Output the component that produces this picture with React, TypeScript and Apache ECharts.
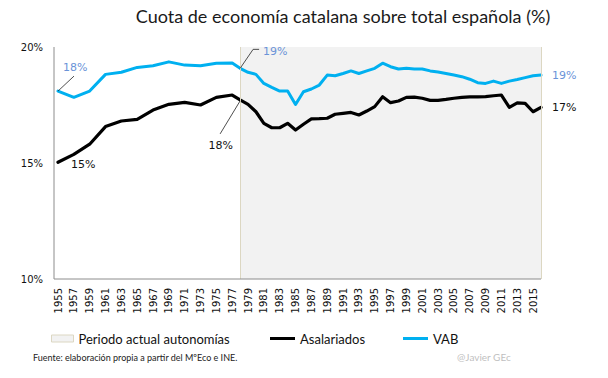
import React, { useEffect, useRef } from "react";
import * as echarts from "echarts";

const years: string[] = Array.from({ length: 62 }, (_, i) => String(1955 + i));

// Biennial data until 1977 (gaps joined by straight segments), annual afterwards
const asalariados: (number | null)[] = [
  15.03, null, 15.37, null, 15.81, null, 16.57, null, 16.81, null, 16.88, null,
  17.28, null, 17.53, null, 17.61, null, 17.5, null, 17.83, null, 17.93,
  17.72, 17.53, 17.21, 16.71, 16.52, 16.52, 16.71, 16.42, 16.67, 16.9, 16.91,
  16.93, 17.1, 17.14, 17.18, 17.07, 17.24, 17.43, 17.86, 17.6, 17.67, 17.83,
  17.84, 17.79, 17.7, 17.7, 17.74, 17.79, 17.83, 17.85, 17.85, 17.86, 17.9,
  17.93, 17.4, 17.59, 17.57, 17.21, 17.4,
];

const vab: (number | null)[] = [
  18.1, null, 17.83, null, 18.1, null, 18.82, null, 18.91, null, 19.12, null,
  19.19, null, 19.36, null, 19.22, null, 19.19, null, 19.3, null, 19.31,
  19.08, 18.91, 18.82, 18.43, 18.26, 18.1, 18.1, 17.52, 18.07, 18.19, 18.36,
  18.79, 18.76, 18.86, 18.97, 18.86, 18.97, 19.08, 19.3, 19.15, 19.05, 19.08,
  19.05, 19.05, 18.97, 18.92, 18.86, 18.79, 18.72, 18.61, 18.46, 18.43, 18.53,
  18.43, 18.53, 18.6, 18.68, 18.76, 18.79,
];

const periodStart = "1978";
const periodEnd = "2016";
const yMin = 10;
const yMax = 20;
const yStep = 5;

const TITLE = "Cuota de economía catalana sobre total española (%)";
const SOURCE = "Fuente: elaboración propia a partir del MºEco e INE.";
const AUTHOR = "@Javier GEc";

export default function App() {
  const ref = useRef<HTMLDivElement>(null);

  useEffect(() => {
    const chart = echarts.init(ref.current!, null, { renderer: "svg" });
    const font = "Lato, 'Century Gothic', sans-serif";
    const numFont = "'DejaVu Sans', Verdana, sans-serif";
    const blue = "#00b0f0";
    const blueText = "#6a93d8";
    const shade = "#f2f2f2";
    const beige = "#dcd7c2";
    const legendText = { fontSize: 13, fontFamily: font, color: "#111" };

    chart.setOption({
      animation: false,
      grid: { left: 58, right: 67, top: 47, bottom: 99 },
      xAxis: {
        type: "category",
        data: years,
        boundaryGap: false,
        axisLine: { show: false },
        axisTick: { show: false },
        axisLabel: {
          interval: 1,
          rotate: 90,
          margin: 9,
          fontSize: 10,
          color: "#111",
          fontFamily: numFont,
        },
      },
      yAxis: {
        type: "value",
        min: yMin,
        max: yMax,
        interval: yStep,
        splitLine: { show: false },
        axisLine: { show: false },
        axisTick: { show: false },
        axisLabel: {
          formatter: "{value}%",
          margin: 15,
          fontSize: 10,
          color: "#111",
          fontFamily: numFont,
        },
      },
      legend: [
        {
          data: [
            {
              name: "Periodo actual autonomías",
              icon: "rect",
              itemStyle: { color: shade, borderColor: beige, borderWidth: 1 },
            },
          ],
          left: 51,
          top: 332,
          padding: 0,
          itemWidth: 22,
          itemHeight: 7,
          selectedMode: false,
          textStyle: legendText,
        },
        {
          data: [{ name: "Asalariados", icon: "rect" }],
          left: 270,
          top: 332,
          padding: 0,
          itemWidth: 25,
          itemHeight: 3,
          selectedMode: false,
          textStyle: legendText,
        },
        {
          data: [{ name: "VAB", icon: "rect" }],
          left: 403,
          top: 332,
          padding: 0,
          itemWidth: 25,
          itemHeight: 3,
          selectedMode: false,
          textStyle: legendText,
        },
      ],
      series: [
        {
          name: "Periodo actual autonomías",
          type: "line",
          data: [],
          z: 1,
          itemStyle: { color: shade },
          markArea: {
            silent: true,
            itemStyle: { color: shade },
            data: [[{ xAxis: periodStart }, { xAxis: periodEnd }]],
          },
          markLine: {
            silent: true,
            symbol: "none",
            label: { show: false },
            lineStyle: { color: beige, type: "solid", width: 1 },
            data: [{ xAxis: periodStart }, { xAxis: periodEnd }],
          },
        },
        {
          name: "Asalariados",
          type: "line",
          data: asalariados,
          connectNulls: true,
          symbol: "none",
          z: 3,
          itemStyle: { color: "#000" },
          lineStyle: { color: "#000", width: 3.2, join: "round", cap: "round" },
          endLabel: {
            show: true,
            distance: 11,
            formatter: (p: any) => Math.round(p.value) + "%",
            fontSize: 11,
            fontFamily: numFont,
            color: "#111",
          },
        },
        {
          name: "VAB",
          type: "line",
          data: vab,
          connectNulls: true,
          symbol: "none",
          z: 3,
          itemStyle: { color: blue },
          lineStyle: { color: blue, width: 3, join: "round", cap: "round" },
          endLabel: {
            show: true,
            distance: 11,
            formatter: (p: any) => Math.round(p.value) + "%",
            fontSize: 11,
            fontFamily: numFont,
            color: blueText,
          },
        },
      ],
    });

    const px = (i: number, v: number) =>
      chart.convertToPixel({ gridIndex: 0 }, [i, v]) as number[];

    const i0 = 0;
    const i78 = years.indexOf(periodStart);
    const iLast = years.length - 1;
    const pTop = px(i0, yMax);
    const pBot = px(i0, yMin);
    const pEnd = px(iLast, yMin);
    const axisX = pTop[0] - 4;

    const pA55 = px(i0, asalariados[i0] as number);
    const pV55 = px(i0, vab[i0] as number);
    const pA78 = px(i78, asalariados[i78] as number);
    const pV78 = px(i78, vab[i78] as number);
    const pct = (v: number | null) => Math.round(v as number) + "%";
    const ann = { fontSize: 11, fontFamily: numFont };
    const Z = 20;

    chart.setOption({
      graphic: [
        {
          type: "line",
          z: Z,
          shape: { x1: axisX, y1: pTop[1], x2: axisX, y2: pBot[1] },
          style: { stroke: "#8c8c8c", lineWidth: 1 },
        },
        {
          type: "line",
          z: Z,
          shape: { x1: axisX, y1: pBot[1], x2: pEnd[0], y2: pBot[1] },
          style: { stroke: "#8c8c8c", lineWidth: 1 },
        },
        {
          type: "text",
          z: Z,
          x: 343,
          y: 16,
          style: {
            text: TITLE,
            fontSize: 18,
            fontFamily: font,
            fill: "#1a1a1a",
            textAlign: "center",
            textVerticalAlign: "middle",
          },
        },
        // 1955 VAB
        {
          type: "line",
          z: Z,
          shape: { x1: pV55[0], y1: pV55[1], x2: pV55[0] + 16, y2: pV55[1] - 15 },
          style: { stroke: "#222", lineWidth: 0.8 },
        },
        {
          type: "text",
          z: Z,
          x: pV55[0] + 5,
          y: pV55[1] - 24,
          style: { ...ann, text: pct(vab[i0]), fill: blueText, textVerticalAlign: "middle" },
        },
        // 1955 Asalariados
        {
          type: "text",
          z: Z,
          x: pA55[0] + 13,
          y: pA55[1] + 2,
          style: { ...ann, text: pct(asalariados[i0]), fill: "#111", textVerticalAlign: "middle" },
        },
        // 1978 VAB
        {
          type: "polyline",
          z: Z,
          shape: {
            points: [
              [pV78[0], pV78[1]],
              [pV78[0] + 13, pV78[1] - 19],
              [pV78[0] + 19, pV78[1] - 19],
            ],
          },
          style: { stroke: "#222", lineWidth: 0.8, fill: "none" },
        },
        {
          type: "text",
          z: Z,
          x: pV78[0] + 23,
          y: pV78[1] - 17,
          style: { ...ann, text: pct(vab[i78]), fill: blueText, textVerticalAlign: "middle" },
        },
        // 1978 Asalariados
        {
          type: "line",
          z: Z,
          shape: { x1: pA78[0], y1: pA78[1] + 1, x2: pA78[0] - 20, y2: pA78[1] + 34 },
          style: { stroke: "#222", lineWidth: 0.8 },
        },
        {
          type: "text",
          z: Z,
          x: pA78[0] - 19.5,
          y: pA78[1] + 46,
          style: {
            ...ann,
            text: pct(asalariados[i78]),
            fill: "#111",
            textAlign: "center",
            textVerticalAlign: "middle",
          },
        },
        {
          type: "text",
          z: Z,
          x: 33,
          y: 357,
          style: {
            text: SOURCE,
            fontSize: 9,
            fontFamily: font,
            fill: "#222",
            textVerticalAlign: "middle",
          },
        },
        {
          type: "text",
          z: Z,
          x: 457,
          y: 357,
          style: {
            text: AUTHOR,
            fontSize: 10,
            fontFamily: font,
            fill: "#bfbfbf",
            textVerticalAlign: "middle",
          },
        },
      ],
    });

    return () => chart.dispose();
  }, []);

  return (
    <div
      ref={ref}
      style={{ position: "absolute", left: 0, top: 0, width: 608, height: 378, background: "#fff" }}
    />
  );
}
